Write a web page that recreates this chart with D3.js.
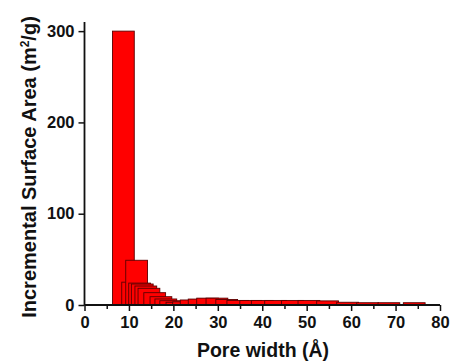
<!DOCTYPE html>
<html><head><meta charset="utf-8">
<script src="https://cdn.jsdelivr.net/npm/d3@7/dist/d3.min.js"></script>
<style>
body{margin:0;background:#fff;}
svg{display:block;}
text{font-family:"Liberation Sans",Arial,sans-serif;font-weight:bold;fill:#111;}
</style></head>
<body>
<svg id="c" width="455" height="364"></svg>
<script>
// Pore width (Å) – bar centres
const poreWidth = [8.75, 10.83, 11.73, 12.4, 13.0, 13.8, 14.5, 15.8, 17.2, 18.3, 19.4, 20.8, 22.3, 24.0, 25.8, 27.7, 29.8, 32.0, 34.5, 37.4, 40.0, 43.0, 46.8, 50.5, 54.7, 59.2, 63.7, 68.5, 74.2];
// Incremental surface area (m²/g)
const surfaceArea = [300, 25, 49, 24, 23, 20.8, 18.3, 13.5, 9.1, 6.6, 4.7, 3.0, 3.5, 5.5, 6.5, 7.5, 7.5, 6.0, 5.0, 5.0, 5.0, 5.0, 5.0, 5.0, 4.5, 3.0, 2.5, 2.5, 2.5];
const xTicks = [0, 10, 20, 30, 40, 50, 60, 70, 80];
const xMinorTicks = [5, 15, 25, 35, 45, 55, 65, 75];
const yTicks = [0, 100, 200, 300];
const barWidth = 4.9; // in Å

const svg = d3.select("#c");
const x = d3.scaleLinear().domain([0, 80]).range([84.5, 440]);
const y = d3.scaleLinear().domain([0, 310]).range([305, 22]);

const data = poreWidth.map((p, i) => ({p, v: surfaceArea[i]}));

svg.append("g").selectAll("rect").data(data).join("rect")
  .attr("x", d => x(d.p - barWidth / 2))
  .attr("width", d => x(d.p + barWidth / 2) - x(d.p - barWidth / 2))
  .attr("y", d => y(d.v))
  .attr("height", d => y(0) - y(d.v))
  .attr("fill", "#ff0000")
  .attr("stroke", "#5a0000")
  .attr("stroke-width", 0.9);

// X axis
const gx = svg.append("g").attr("transform", `translate(0,${y(0)})`);
gx.call(d3.axisBottom(x).tickValues(xTicks).tickSize(6).tickPadding(5).tickFormat(d3.format("d")));
gx.append("g").call(d3.axisBottom(x).tickValues(xMinorTicks).tickSize(4).tickFormat(""))
  .select(".domain").remove();
gx.selectAll(".domain").attr("stroke", "#111").attr("stroke-width", 1.8).attr("d", `M${x(0)},0H${x(80)}`);
gx.selectAll(".tick line").attr("stroke", "#111").attr("stroke-width", 1.5);
gx.selectAll(".tick text").style("font-size", "16.5px").attr("fill", "#111");

// Y axis
const gy = svg.append("g").attr("transform", `translate(${x(0)},0)`);
gy.call(d3.axisLeft(y).tickValues(yTicks).tickSize(6).tickPadding(4).tickFormat(d3.format("d")));
gy.selectAll(".domain").attr("stroke", "#111").attr("stroke-width", 1.8).attr("d", `M0,${y(0)}V${y(310)}`);
gy.selectAll(".tick line").attr("stroke", "#111").attr("stroke-width", 1.5);
gy.selectAll(".tick text").style("font-size", "16.5px").attr("fill", "#111");

// Axis titles
svg.append("text")
  .attr("x", 263).attr("y", 357)
  .attr("text-anchor", "middle")
  .style("font-size", "19.5px")
  .text("Pore width (Å)");

const yl = svg.append("text")
  .attr("transform", "translate(36,167) rotate(-90)")
  .attr("text-anchor", "middle")
  .style("font-size", "20px");
yl.append("tspan").text("Incremental Surface Area (m");
yl.append("tspan").attr("dy", -7).style("font-size", "12px").text("2");
yl.append("tspan").attr("dy", 7).text("/g)");
</script>
</body></html>
